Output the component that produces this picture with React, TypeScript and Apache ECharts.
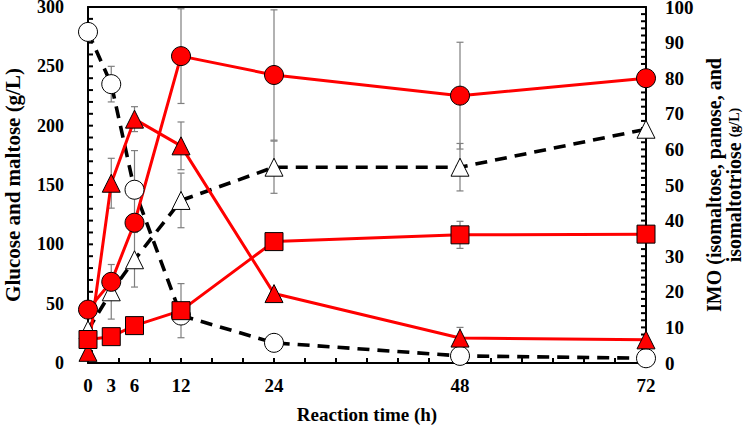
import React, { useEffect, useRef } from "react";
import * as echarts from "echarts";

// Sampling times (h)
const time = [0, 3, 6, 12, 24, 48, 72];
const xLabelValues = [0, 3, 6, 12, 24, 48, 72];

// Tick positions on each axis
const xTicks = [0, 4, 8, 12, 16, 20, 24, 28, 32, 36, 40, 44, 48, 52, 56, 60, 64, 68, 72];
const leftTicks = [
  0, 10, 20, 30, 40, 50, 60, 70, 80, 90, 100, 110, 120, 130, 140, 150, 160, 170, 180, 190, 200,
  210, 220, 230, 240, 250, 260, 270, 280, 290, 300,
];
const rightTicks = [
  0, 2, 4, 6, 8, 10, 12, 14, 16, 18, 20, 22, 24, 26, 28, 30, 32, 34, 36, 38, 40, 42, 44, 46, 48, 50,
  52, 54, 56, 58, 60, 62, 64, 66, 68, 70, 72, 74, 76, 78, 80, 82, 84, 86, 88, 90, 92, 94, 96, 98, 100,
];

// Left axis: glucose and maltose (g/L)
const maltose = [279, 235, 146, 40, 17, 6, 4];
const maltoseErr = [0, 15, 33, 0, 0, 0, 0];
const glucose = [28, 60, 87, 137, 165, 165, 197];
const glucoseErr = [0, 23, 23, 23, 22, 20, 0];

// Right axis: IMO components (g/L)
const isomaltose = [15, 22.8, 39.4, 86.2, 80.9, 75.1, 80];
const isomaltoseErr = [0, 0, 0, 13.3, 18.3, 15, 0];
const panose = [3, 50.5, 68.5, 61, 19.5, 7, 6.5];
const panoseErr = [0, 7, 3.5, 6.7, 0, 3, 0];
const isomaltotriose = [6.6, 7.4, 10.5, 14.7, 34.1, 36, 36.2];
const isomaltotrioseErr = [0, 0, 0, 7.6, 0, 3.8, 0];

const FONT = "'Liberation Serif', 'Times New Roman', serif";
const TICK_LEN = 5;

const pairs = (vals: number[]) => time.map((t, i) => [t, vals[i]]);
const errPoints = (vals: number[], errs: number[]) =>
  time.map((t, i) => [t, vals[i], errs[i]]).filter((d) => d[2] > 0);

function errorSeries(vals: number[], errs: number[], yAxisIndex: number) {
  return {
    type: "custom",
    yAxisIndex,
    clip: true,
    z: 1,
    silent: true,
    data: errPoints(vals, errs),
    renderItem: (_params: any, api: any) => {
      const x = api.value(0);
      const y = api.value(1);
      const e = api.value(2);
      const top = api.coord([x, y + e]);
      const bot = api.coord([x, y - e]);
      const hw = 3.5;
      const style = { stroke: "#7f7f7f", lineWidth: 1.2 };
      return {
        type: "group",
        children: [
          { type: "line", shape: { x1: top[0], y1: top[1], x2: bot[0], y2: bot[1] }, style },
          { type: "line", shape: { x1: top[0] - hw, y1: top[1], x2: top[0] + hw, y2: top[1] }, style },
          { type: "line", shape: { x1: bot[0] - hw, y1: bot[1], x2: bot[0] + hw, y2: bot[1] }, style },
        ],
      };
    },
  };
}

// Inward-pointing tick marks along one side of the plot frame
function tickSeries(points: number[][], yAxisIndex: number, dx: number, dy: number) {
  return {
    type: "custom",
    yAxisIndex,
    clip: false,
    silent: true,
    z: 2,
    data: points,
    renderItem: (_params: any, api: any) => {
      const p = api.coord([api.value(0), api.value(1)]);
      return {
        type: "line",
        shape: { x1: p[0], y1: p[1], x2: p[0] + dx, y2: p[1] + dy },
        style: { stroke: "#000", lineWidth: 2 },
      };
    },
  };
}

function lineSeries(
  name: string,
  vals: number[],
  yAxisIndex: number,
  symbol: string,
  symbolSize: number,
  fill: string,
  lineColor: string,
  dashed: boolean
) {
  return {
    name,
    type: "line",
    yAxisIndex,
    data: pairs(vals),
    symbol,
    symbolSize,
    z: 3,
    itemStyle: { color: fill, borderColor: "#000", borderWidth: 1 },
    lineStyle: dashed
      ? { color: lineColor, width: 3.6, type: [12, 8] }
      : { color: lineColor, width: 3 },
    emphasis: { disabled: true },
  };
}

export default function App() {
  const ref = useRef<HTMLDivElement>(null);

  useEffect(() => {
    if (!ref.current) return;
    const chart = echarts.init(ref.current, null, { renderer: "svg" });
    const axisLine = { show: true, onZero: false, lineStyle: { color: "#000", width: 2 } };
    const labelStyle = { fontFamily: FONT, fontWeight: "bold", fontSize: 19, color: "#000" };

    chart.setOption({
      animation: false,
      backgroundColor: "#fff",
      grid: {
        left: 88,
        right: 98,
        top: 7,
        bottom: 68,
        outerBoundsMode: "none",
        containLabel: false,
        show: false,
      },
      xAxis: [
        {
          type: "value",
          position: "bottom",
          min: 0,
          max: 72,
          interval: 4,
          name: "Reaction time (h)",
          nameLocation: "middle",
          nameGap: 42,
          nameTextStyle: { fontFamily: FONT, fontWeight: "bold", fontSize: 19, color: "#000" },
          axisLine,
          axisTick: { show: false },
          axisLabel: { ...labelStyle, margin: 13, customValues: xLabelValues },
          splitLine: { show: false },
        },
        {
          // frame line along the top of the plot
          type: "value",
          position: "top",
          min: 0,
          max: 72,
          interval: 4,
          axisLine,
          axisTick: { show: false },
          axisLabel: { show: false },
          splitLine: { show: false },
        },
      ],
      yAxis: [
        {
          type: "value",
          position: "left",
          min: 0,
          max: 300,
          interval: 50,
          name: "Glucose and maltose (g/L)",
          nameLocation: "middle",
          nameGap: 65,
          nameRotate: 90,
          nameTextStyle: { fontFamily: FONT, fontWeight: "bold", fontSize: 21, color: "#000" },
          axisLine,
          axisTick: { show: false },
          axisLabel: { ...labelStyle, fontSize: 18, margin: 24, lineHeight: 14 },
          splitLine: { show: false },
        },
        {
          type: "value",
          position: "right",
          min: 0,
          max: 100,
          interval: 10,
          name: "{a|IMO (isomaltose, panose, and}\n{a|isomaltotriose }{b|(g/L)}",
          nameLocation: "middle",
          nameGap: 49,
          nameRotate: 90,
          nameTextStyle: {
            fontFamily: FONT,
            fontWeight: "bold",
            color: "#000",
            lineHeight: 20,
            rich: {
              a: { fontFamily: FONT, fontWeight: "bold", fontSize: 20, color: "#000", lineHeight: 20 },
              b: { fontFamily: FONT, fontWeight: "bold", fontSize: 14, color: "#000", lineHeight: 20 },
            },
          },
          axisLine,
          axisTick: { show: false },
          axisLabel: { ...labelStyle, margin: 19, lineHeight: 14 },
          splitLine: { show: false },
        },
      ],
      series: [
        tickSeries(xTicks.map((t) => [t, 0]), 0, 0, -TICK_LEN),
        tickSeries(leftTicks.map((v) => [0, v]), 0, TICK_LEN, 0),
        tickSeries(rightTicks.map((v) => [72, v]), 1, -TICK_LEN, 0),
        errorSeries(maltose, maltoseErr, 0),
        errorSeries(glucose, glucoseErr, 0),
        errorSeries(isomaltose, isomaltoseErr, 1),
        errorSeries(panose, panoseErr, 1),
        errorSeries(isomaltotriose, isomaltotrioseErr, 1),
        lineSeries("Maltose", maltose, 0, "circle", 19, "#fff", "#000", true),
        lineSeries("Glucose", glucose, 0, "triangle", 18, "#fff", "#000", true),
        lineSeries("Isomaltose", isomaltose, 1, "circle", 19, "#ff0000", "#ff0000", false),
        lineSeries("Panose", panose, 1, "triangle", 18, "#ff0000", "#ff0000", false),
        lineSeries("Isomaltotriose", isomaltotriose, 1, "rect", 18, "#ff0000", "#ff0000", false),
      ],
    });

    return () => chart.dispose();
  }, []);

  return <div ref={ref} style={{ width: 744, height: 431, position: "absolute", left: 0, top: 0 }} />;
}
